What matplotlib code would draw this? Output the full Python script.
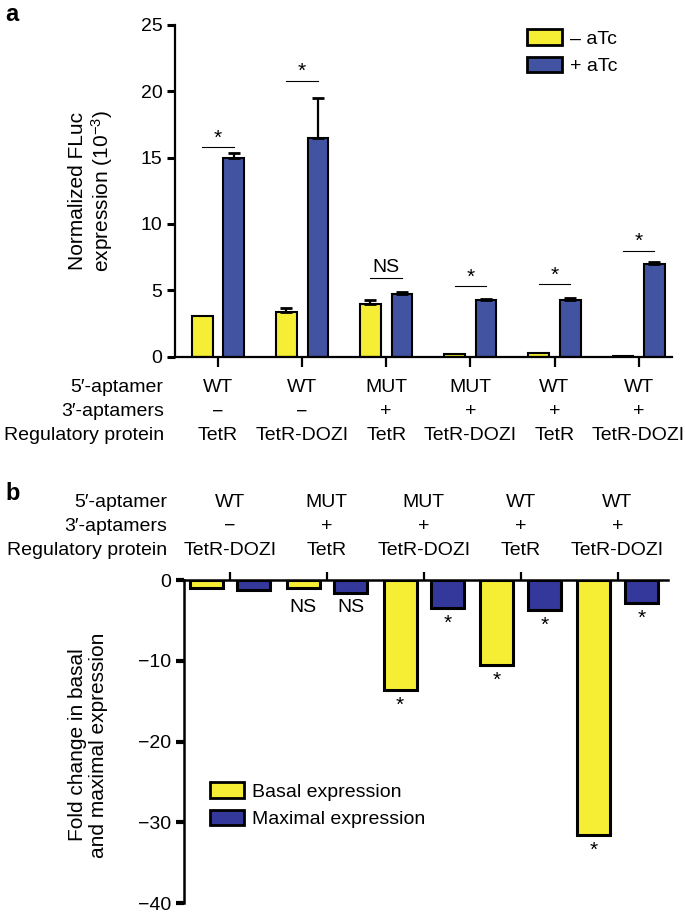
import matplotlib
matplotlib.use('Agg')
import matplotlib.pyplot as plt
import matplotlib.transforms as mtransforms
import numpy as np
from matplotlib.patches import Patch

plt.rcParams['font.family'] = ['Liberation Sans', 'DejaVu Sans']
plt.rcParams['mathtext.fontset'] = 'custom'
plt.rcParams['mathtext.rm'] = 'Liberation Sans'
plt.rcParams['mathtext.it'] = 'Liberation Sans:italic'
plt.rcParams['axes.unicode_minus'] = True

FS = 14
YELLOW = '#F6EE34'
BLUE_A = '#4253A2'
BLUE_B = '#34389A'

# panel a data
aptamer5_a = ['WT', 'WT', 'MUT', 'MUT', 'WT', 'WT']
aptamer3_a = ['\u2212', '\u2212', '+', '+', '+', '+']
protein_a = ['TetR', 'TetR-DOZI', 'TetR', 'TetR-DOZI', 'TetR', 'TetR-DOZI']
minus_atc = [3.1, 3.4, 4.0, 0.2, 0.3, 0.1]
minus_atc_err = [0.0, 0.3, 0.3, 0.0, 0.0, 0.0]
plus_atc = [15.0, 16.45, 4.7, 4.27, 4.3, 7.0]
plus_atc_err = [0.35, 3.0, 0.15, 0.05, 0.1, 0.15]
sig_a = ['*', '*', 'NS', '*', '*', '*']
sig_a_height = [15.8, 20.8, 5.9, 5.3, 5.5, 8.0]

# panel b data
aptamer5_b = ['WT', 'MUT', 'MUT', 'WT', 'WT']
aptamer3_b = ['\u2212', '+', '+', '+', '+']
protein_b = ['TetR-DOZI', 'TetR', 'TetR-DOZI', 'TetR', 'TetR-DOZI']
basal = [-1.0, -1.0, -13.6, -10.5, -31.6]
maximal = [-1.2, -1.6, -3.5, -3.7, -2.85]
sig_basal = ['', 'NS', '*', '*', '*']
sig_maximal = ['', 'NS', '*', '*', '*']

row_names = ['5\u2032-aptamer', '3\u2032-aptamers', 'Regulatory protein']

fig = plt.figure(figsize=(6.85, 9.15), dpi=100)

# ---------------- panel a ----------------
ax_a = fig.add_axes([0.2555, 0.610, 0.726, 0.363])
xa = np.arange(len(minus_atc))
wa, oa = 0.245, 0.187
ax_a.bar(xa - oa, minus_atc, wa, color=YELLOW, edgecolor='black', linewidth=1.5, zorder=2)
ax_a.bar(xa + oa, plus_atc, wa, color=BLUE_A, edgecolor='black', linewidth=1.5, zorder=2)

for xs, vals, errs in [(xa - oa, minus_atc, minus_atc_err), (xa + oa, plus_atc, plus_atc_err)]:
    m = np.array(errs) > 0
    ax_a.errorbar(xs[m], np.array(vals)[m], yerr=[np.zeros(m.sum()), np.array(errs)[m]],
                  fmt='none', ecolor='black', elinewidth=1.6, capsize=4, capthick=2, zorder=3)

for i, (s, h) in enumerate(zip(sig_a, sig_a_height)):
    ax_a.plot([i - oa, i + oa], [h, h], color='black', linewidth=0.8)
    if s == '*':
        ax_a.text(i, h - 0.05, s, ha='center', va='bottom', fontsize=15)
    else:
        ax_a.text(i, h + 0.15, s, ha='center', va='bottom', fontsize=FS)

ax_a.set_xlim(-0.51, 5.40)
ax_a.set_ylim(0, 25)
ax_a.set_yticks([0, 5, 10, 15, 20, 25])
ax_a.set_xticks(xa)
ax_a.set_xticklabels([])
ax_a.spines['top'].set_visible(False)
ax_a.spines['right'].set_visible(False)
for sp in ['left', 'bottom']:
    ax_a.spines[sp].set_linewidth(1.6)
ax_a.tick_params(axis='y', direction='out', length=6, width=2.2, labelsize=FS, pad=3)
ax_a.tick_params(axis='x', direction='out', length=7, width=1.6)
ax_a.set_ylabel('Normalized FLuc\nexpression (10$^{\u22123}$)', fontsize=15, linespacing=1.1)
ax_a.yaxis.set_label_coords(-0.121, 0.5)

ax_a.legend(handles=[Patch(facecolor=YELLOW, edgecolor='black', linewidth=2, label='\u2013 aTc'),
                     Patch(facecolor=BLUE_A, edgecolor='black', linewidth=2, label='+ aTc')],
            loc='upper left', bbox_to_anchor=(0.769, 0.968), bbox_transform=fig.transFigure,
            frameon=False, fontsize=FS, handlelength=1.8, handleheight=0.85,
            handletextpad=0.4, labelspacing=0.45, borderpad=0, borderaxespad=0)

tr_a = mtransforms.blended_transform_factory(ax_a.transData, fig.transFigure)
rows_a = [aptamer5_a, aptamer3_a, protein_a]
row_y_a = [0.577, 0.550, 0.524]
for name, vals, y in zip(row_names, rows_a, row_y_a):
    fig.text(0.239, y, name, ha='right', va='center', fontsize=FS)
    for i, v in enumerate(vals):
        ax_a.text(i, y, v, transform=tr_a, ha='center', va='center', fontsize=FS)

fig.text(0.008, 0.984, 'a', fontsize=17, fontweight='bold', ha='left', va='center')

# ---------------- panel b ----------------
ax_b = fig.add_axes([0.268, 0.013, 0.707, 0.353])
xb = np.arange(len(basal))
wb, ob = 0.34, 0.245
ax_b.bar(xb - ob, basal, wb, color=YELLOW, edgecolor='black', linewidth=2.2, zorder=2)
ax_b.bar(xb + ob, maximal, wb, color=BLUE_B, edgecolor='black', linewidth=2.2, zorder=2)

for i, (s, v) in enumerate(zip(sig_basal, basal)):
    if s == 'NS':
        ax_b.text(i - ob, -2.4, s, ha='center', va='top', fontsize=FS)
    elif s:
        ax_b.text(i - ob, v - 0.7, s, ha='center', va='top', fontsize=15)
for i, (s, v) in enumerate(zip(sig_maximal, maximal)):
    if s == 'NS':
        ax_b.text(i + ob, -2.4, s, ha='center', va='top', fontsize=FS)
    elif s:
        ax_b.text(i + ob, v - 0.7, s, ha='center', va='top', fontsize=15)

ax_b.set_xlim(-0.48, 4.52)
ax_b.set_ylim(-40, 0)
ax_b.set_yticks([0, -10, -20, -30, -40])
ax_b.xaxis.tick_top()
ax_b.set_xticks(xb)
ax_b.set_xticklabels([])
ax_b.spines['bottom'].set_visible(False)
ax_b.spines['right'].set_visible(False)
for sp in ['left', 'top']:
    ax_b.spines[sp].set_linewidth(1.8)
ax_b.tick_params(axis='y', direction='out', length=6, width=3, labelsize=FS, pad=3)
ax_b.tick_params(axis='x', direction='out', length=6, width=1.6)
ax_b.set_ylabel('Fold change in basal\nand maximal expression', fontsize=15, linespacing=1.1)
ax_b.yaxis.set_label_coords(-0.157, 0.49)

ax_b.legend(handles=[Patch(facecolor=YELLOW, edgecolor='black', linewidth=2, label='Basal expression'),
                     Patch(facecolor=BLUE_B, edgecolor='black', linewidth=2, label='Maximal expression')],
            loc='upper left', bbox_to_anchor=(0.306, 0.145), bbox_transform=fig.transFigure,
            frameon=False, fontsize=FS, handlelength=1.75, handleheight=0.85,
            handletextpad=0.45, labelspacing=0.45, borderpad=0, borderaxespad=0)

tr_b = mtransforms.blended_transform_factory(ax_b.transData, fig.transFigure)
rows_b = [aptamer5_b, aptamer3_b, protein_b]
row_y_b = [0.451, 0.425, 0.398]
for name, vals, y in zip(row_names, rows_b, row_y_b):
    fig.text(0.244, y, name, ha='right', va='center', fontsize=FS)
    for i, v in enumerate(vals):
        ax_b.text(i, y, v, transform=tr_b, ha='center', va='center', fontsize=FS)

fig.text(0.008, 0.461, 'b', fontsize=17, fontweight='bold', ha='left', va='center')

fig.savefig('out.png', dpi=100)
